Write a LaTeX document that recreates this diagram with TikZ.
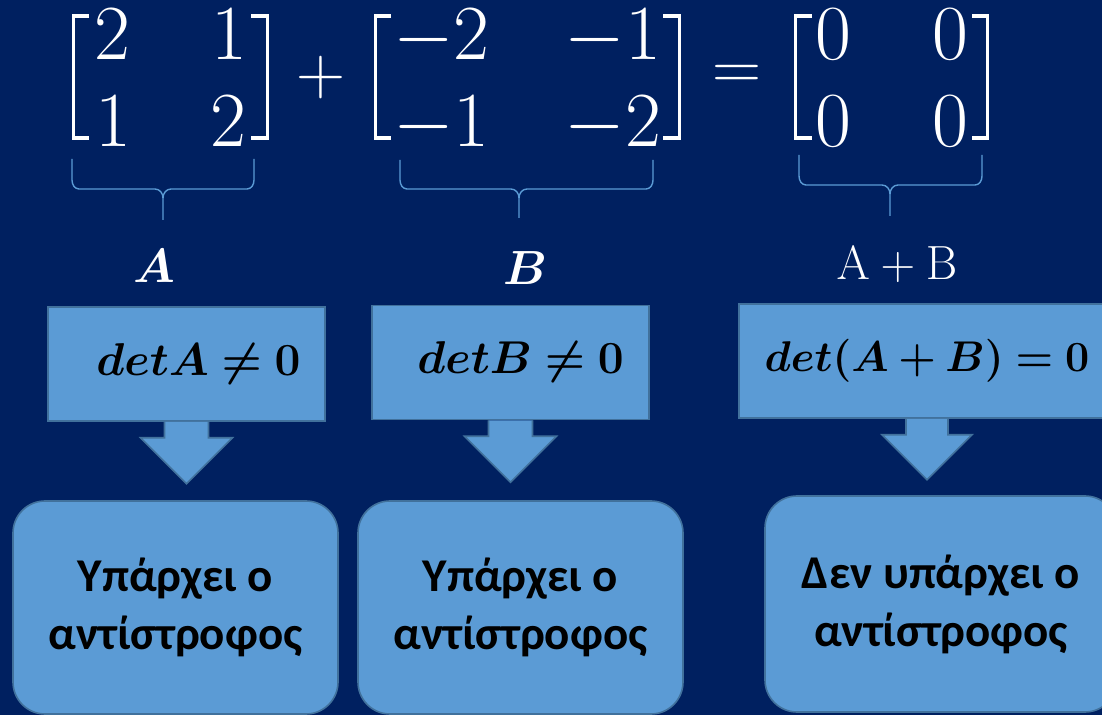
\RequirePackage{fix-cm}
\documentclass[tikz,border=0pt]{standalone}
\usepackage{amsmath, amssymb}
\usepackage{bm}
\usepackage[no-math]{fontspec}
\newfontfamily\greekfont{Carlito}
\usepackage{tikz}
\usetikzlibrary{calc}
\definecolor{navybg}{RGB}{0,32,96}
\definecolor{boxfill}{RGB}{91,155,213}
\definecolor{boxline}{RGB}{65,113,156}

\begin{document}
\begin{tikzpicture}[
    x=0.5pt, y=-0.5pt,
    entry/.style={anchor=base, inner sep=0pt, text=white, font=\fontsize{39}{47}\selectfont},
    oper/.style={inner sep=0pt, text=white, font=\fontsize{34}{42}\selectfont},
    bracket/.style={white, line width=1.9pt},
    brace/.style={boxfill, line width=0.7pt},
    tag/.style={anchor=base, inner sep=0pt, text=white, font=\fontsize{24}{29}\selectfont},
    cond/.style={rectangle, draw=boxline, fill=boxfill, line width=0.8pt, minimum width=138.5pt, minimum height=57pt, font=\fontsize{23}{28}\selectfont},
    result/.style={rectangle, draw=boxline, fill=boxfill, line width=0.8pt, rounded corners=16pt, minimum width=162.5pt, minimum height=106.5pt, align=center, font=\greekfont\bfseries\fontsize{23.5}{29}\selectfont},
    blockarrow/.style={draw=boxline, fill=boxfill, line width=0.8pt}
]
    \useasboundingbox (0,0) rectangle (1102,715);
    \clip (0,0) rectangle (1102,715);
    \fill[navybg] (0,0) rectangle (1102,715);

    % πίνακας A
    \node[entry] (a11) at (112.5,60) {$2$};
    \node[entry] (a12) at (229.5,60) {$1$};
    \node[entry] (a21) at (113,147) {$1$};
    \node[entry] (a22) at (228.5,147) {$2$};
    \draw[bracket] (89,16) -- (73.5,16) -- (73.5,138) -- (89,138);
    \draw[bracket] (251,16) -- (267.5,16) -- (267.5,138) -- (251,138);

    \node[oper] (plus) at (321,78) {$+$};

    % πίνακας B
    \node[entry] (b11) at (441.5,60) {$-2$};
    \node[entry] (b12) at (613,60) {$-1$};
    \node[entry] (b21) at (441.5,147) {$-1$};
    \node[entry] (b22) at (613,147) {$-2$};
    \draw[bracket] (391,16) -- (375.5,16) -- (375.5,138) -- (391,138);
    \draw[bracket] (663,16) -- (679.5,16) -- (679.5,138) -- (663,138);

    \node[oper] (equals) at (737,77) {$=$};

    % μηδενικός πίνακας
    \node[entry] (c11) at (833.5,60) {$0$};
    \node[entry] (c12) at (950,60) {$0$};
    \node[entry] (c21) at (833.5,147) {$0$};
    \node[entry] (c22) at (950,147) {$0$};
    \draw[bracket] (812,16) -- (795.5,16) -- (795.5,138) -- (812,138);
    \draw[bracket] (972,16) -- (987.5,16) -- (987.5,138) -- (972,138);

    % άγκιστρα
    \draw[brace] (72,159) -- (72,180) to[out=-90,in=180] (79,189) -- (155,189) to[out=0,in=90] (163,198) -- (163,220);
    \draw[brace] (163,198) to[out=90,in=180] (171,189) -- (247,189) to[out=0,in=-90] (254,180) -- (254,159);
    \draw[brace] (400,160) -- (400,180) to[out=-90,in=180] (407,189) -- (511,189) to[out=0,in=90] (519,198) -- (519,218);
    \draw[brace] (519,198) to[out=90,in=180] (527,189) -- (646,189) to[out=0,in=-90] (653,180) -- (653,160);
    \draw[brace] (799,155) -- (799,176) to[out=-90,in=180] (806,185) -- (882,185) to[out=0,in=90] (890,194) -- (890,216);
    \draw[brace] (890,194) to[out=90,in=180] (898,185) -- (975,185) to[out=0,in=-90] (982,176) -- (982,155);

    \node[tag] (labA) at (154,283) {$\bm{A}$};
    \node[tag] (labB) at (525,285) {$\bm{B}$};
    \node[tag] (labAB) at (897,280) {$\mathrm{A}+\mathrm{B}$};

    % ορίζουσες
    \node[cond] (condA) at (186.5,364) {\hspace{12pt}$\bm{detA \neq 0}$};
    \node[cond] (condB) at (510.5,362.5) {\hspace{10pt}$\bm{detB \neq 0}$};
    \node[cond, minimum width=188pt, font=\fontsize{21.5}{26}\selectfont] (condC) at (927,361) {$\bm{det(A+B) = 0}$};

    % βέλη
    \filldraw[blockarrow] ($(condA.south)+(-22,0)$) -- ++(0,16) -- ++(-24,0) -- ($(condA.south)+(0,62)$) -- ($(condA.south)+(46,16)$) -- ++(-24,0) -- ++(0,-16);
    \filldraw[blockarrow] ($(condB.south)+(-22,0)$) -- ++(0,16) -- ++(-24,0) -- ($(condB.south)+(0,62)$) -- ($(condB.south)+(46,16)$) -- ++(-24,0) -- ++(0,-16);
    \filldraw[blockarrow] ($(condC.south)+(-21,0)$) -- ++(0,16) -- ++(-24,0) -- ($(condC.south)+(0,61)$) -- ($(condC.south)+(45,16)$) -- ++(-24,0) -- ++(0,-16);

    % αποτελέσματα
    \node[result] (resA) at (175.5,607.5) {Υπάρχει ο\\αντίστροφος};
    \node[result] (resB) at (520.5,607.5) {Υπάρχει ο\\αντίστροφος};
    \node[result, minimum width=176pt, minimum height=108pt] (resC) at (941,604) {Δεν υπάρχει ο\\αντίστροφος};
\end{tikzpicture}
\end{document}
